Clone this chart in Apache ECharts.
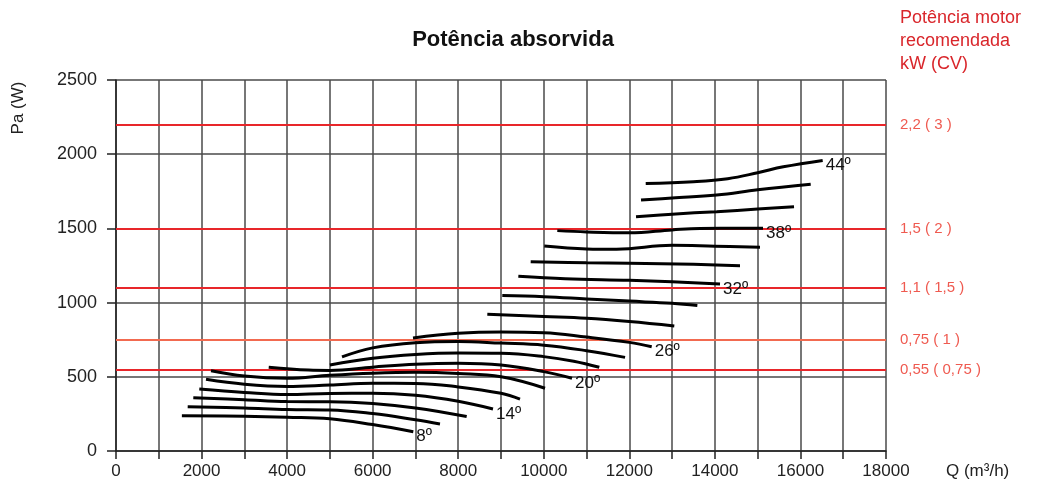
<!DOCTYPE html>
<html>
<head>
<meta charset="utf-8">
<script src="https://cdn.jsdelivr.net/npm/echarts@6/dist/echarts.min.js"></script>
<style>
html,body{margin:0;padding:0;background:#fff;}
#chart{width:1041px;height:495px;}
</style>
</head>
<body>
<div id="chart"></div>
<script>
// Blade angle curves: [Q (m3/h), Pa (W)]
const c08 = [[1540,238],[3000,234],[4000,228],[5000,218],[6000,178],[6950,130]];
const c10 = [[1676,299],[3000,290],[4000,280],[5000,277],[6000,252],[7000,210],[7574,182]];
const c12 = [[1807,359],[3000,345],[4000,333],[5000,332],[6000,320],[7000,290],[8198,232]];
const c14 = [[1947,418],[3000,395],[4000,380],[5000,388],[6000,389],[7000,375],[8000,335],[8813,283]];
const c16 = [[2104,483],[3000,450],[4000,435],[5000,445],[6000,456],[7000,455],[8000,432],[9000,389],[9444,350]];
const c18 = [[2221,541],[3000,505],[4000,490],[5000,510],[6000,524],[7000,530],[8000,522],[9000,500],[10029,423]];
const c20 = [[3570,564],[4500,545],[5000,543],[6000,565],[7000,585],[8000,592],[9000,580],[10000,535],[10660,490]];
const c22 = [[5000,580],[6000,625],[7000,650],[8000,660],[9000,658],[10000,636],[10700,605],[11298,564]];
const c24 = [[5283,634],[6000,695],[7000,730],[8000,738],[9000,727],[10000,713],[11000,676],[11900,631]];
const c26 = [[6943,762],[8000,793],[9000,802],[10000,797],[11000,768],[12000,732],[12523,703]];
const c28 = [[8680,921],[10000,906],[11000,894],[12000,872],[13051,842]];
const c30 = [[9030,1048],[10000,1040],[11000,1025],[12000,1010],[13000,995],[13590,980]];
const c32 = [[9405,1177],[10500,1160],[12000,1150],[13000,1140],[14120,1125]];
const c34 = [[9694,1276],[11000,1268],[12000,1265],[13500,1258],[14587,1249]];
const c36 = [[10012,1381],[11000,1362],[11700,1360],[13000,1386],[14000,1380],[15055,1373]];
const c38 = [[10316,1485],[11000,1476],[12000,1470],[13000,1490],[13650,1500],[15125,1501]];
const c40 = [[12156,1579],[13000,1596],[14041,1613],[15000,1630],[15850,1646]];
const c42 = [[12273,1691],[13000,1705],[14041,1725],[15000,1760],[16240,1798]];
const c44 = [[12383,1803],[13500,1815],[14300,1835],[15000,1875],[15600,1915],[16520,1958]];

const curves = [c08,c10,c12,c14,c16,c18,c20,c22,c24,c26,c28,c30,c32,c34,c36,c38,c40,c42,c44];
const curveAngles = [8,10,12,14,16,18,20,22,24,26,28,30,32,34,36,38,40,42,44];
const labelledAngles = [8,14,20,26,32,38,44];

// Recommended motor power reference lines
const motorLevels = [2200, 1500, 1100, 750, 550];
const motorLabels = ['2,2 ( 3 )', '1,5 ( 2 )', '1,1 ( 1,5 )', '0,75 ( 1 )', '0,55 ( 0,75 )'];
const motorColors = ['#e8262a', '#e8262a', '#e8262a', '#f26a50', '#e8262a'];

const xTicks = [0,2000,4000,6000,8000,10000,12000,14000,16000,18000];

const FONT = '"Liberation Sans", Arial, Helvetica, sans-serif';

const chart = echarts.init(document.getElementById('chart'));

const series = curves.map((d, i) => {
  const ang = curveAngles[i];
  const lab = labelledAngles.includes(ang);
  return {
    type: 'line',
    data: d,
    smooth: 0.4,
    showSymbol: false,
    symbol: 'none',
    silent: true,
    lineStyle: { color: '#000', width: 3 },
    z: 5,
    endLabel: lab ? {
      show: true,
      formatter: ang + 'º',
      color: '#111',
      fontFamily: FONT,
      fontSize: 17,
      distance: 3,
      offset: [0, 5]
    } : { show: false }
  };
});

series.push({
  type: 'line',
  data: [],
  silent: true,
  markLine: {
    silent: true,
    symbol: 'none',
    animation: false,
    data: motorLevels.map((v, i) => ({
      yAxis: v,
      lineStyle: { color: motorColors[i], width: 2, type: 'solid' },
      label: {
        show: true,
        position: 'end',
        formatter: motorLabels[i],
        color: '#ef5a50',
        fontFamily: FONT,
        fontSize: 15,
        distance: 14
      }
    }))
  },
  z: 3
});

chart.setOption({
  animation: false,
  backgroundColor: '#fff',
  textStyle: { fontFamily: FONT },
  title: [
    {
      text: 'Potência absorvida',
      left: 508, top: 24, textAlign: 'center',
      textStyle: { fontSize: 22, fontWeight: 'bold', color: '#111', fontFamily: FONT }
    },
    {
      text: 'Potência motor\nrecomendada\nkW (CV)',
      left: 900, top: 7,
      padding: 0,
      textStyle: { fontSize: 18, fontWeight: 'normal', color: '#d9262b', lineHeight: 23, fontFamily: FONT }
    }
  ],
  graphic: [
    {
      type: 'text', left: 946, top: 463,
      style: { text: 'Q (m³/h)', fontSize: 17, fill: '#222', fontFamily: FONT }
    },
    {
      type: 'text', x: 18, y: 108, rotation: Math.PI / 2,
      style: { text: 'Pa (W)', fontSize: 17, fill: '#222', fontFamily: FONT, align: 'center', verticalAlign: 'middle' }
    }
  ],
  grid: { left: 116, right: 155, top: 80, bottom: 44, containLabel: false },
  xAxis: {
    type: 'value',
    min: 0, max: 18000, interval: 1000,
    axisLine: { show: true, lineStyle: { color: '#222', width: 1.5 } },
    axisTick: { show: true, length: 8, lineStyle: { color: '#222', width: 1.5 } },
    axisLabel: {
      margin: 12,
      fontSize: 17, color: '#222', fontFamily: FONT,
      formatter: v => xTicks.includes(v) ? String(v) : ''
    },
    splitLine: { show: true, lineStyle: { color: '#4a4a4a', width: 1.5 } }
  },
  yAxis: {
    type: 'value',
    min: 0, max: 2500, interval: 500,
    axisLine: { show: true, lineStyle: { color: '#222', width: 1.5 } },
    axisTick: { show: true, length: 9, lineStyle: { color: '#222', width: 1.5 } },
    axisLabel: { margin: 19, fontSize: 18, color: '#222', fontFamily: FONT, formatter: v => String(v) },
    splitLine: { show: true, lineStyle: { color: '#4a4a4a', width: 1.5 } }
  },
  series: series
});
</script>
</body>
</html>
